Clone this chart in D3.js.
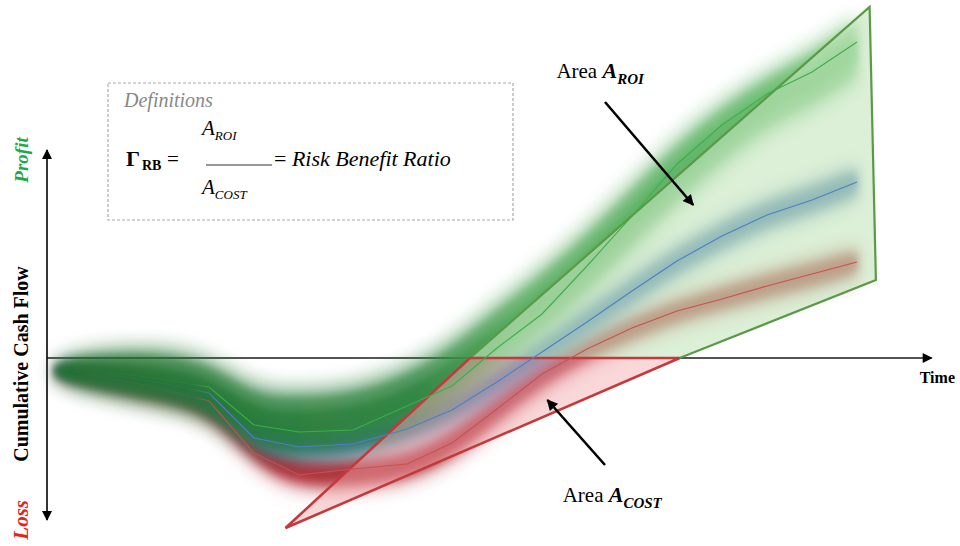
<!DOCTYPE html>
<html>
<head>
<meta charset="utf-8">
<script src="https://cdn.jsdelivr.net/npm/d3@7"></script>
<style>
  body { margin: 0; background: #fff; }
  svg { display: block; }
  text { font-family: "Liberation Serif", "Times New Roman", serif; }
</style>
</head>
<body>
<svg id="chart" width="960" height="546"></svg>
<script>
// Time steps (months) shared by all scenarios
const time = [1, 3, 11, 18, 23, 28, 34, 40, 45, 50, 55, 60, 65, 70, 75, 80, 85, 90];

// Cumulative cash flow per scenario (expected path)
const greenValues = [-4, -5, -9.5, -14.5, -33.5, -37, -36, -24, -14, 5, 22, 46, 71, 97, 116.5, 132, 143, 158];
const blueValues  = [-5, -6, -11, -17.5, -40, -44.5, -43, -35.5, -26, -12, 3, 18, 33.5, 48.5, 61, 71.5, 79, 88];
const redValues   = [-6, -7, -13.5, -21.5, -47.5, -58.5, -55.5, -53, -42.5, -25.5, -8, 4.5, 15, 23.5, 29.5, 36, 42, 48];

// Uncertainty envelopes (upper / lower bound) per scenario
const greenHigh = [-3, 1, 3, -2, -19, -20, -18, -9, 5, 24, 41.5, 61.5, 84, 106.5, 125, 140, 151.5, 166.5];
const greenLow  = [-10, -14, -20, -26, -44, -46, -43, -36, -21, -3.5, 14, 34, 56.5, 79, 99, 116.5, 126.5, 141.5];
const blueHigh  = [-4, -3.5, -8.5, -15, -33.5, -37, -36, -28.5, -19, -5, 10, 25, 40.5, 55.5, 68, 79, 86, 95];
const blueLow   = [-8, -11, -16, -22, -47, -50, -49, -42, -33, -19, -4, 11, 26.5, 41.5, 54, 65, 72, 81];
const redHigh   = [-5, -6, -11, -18.5, -41, -52, -51, -49, -37, -19, -2, 10, 20.5, 29, 35.5, 42, 47.5, 54];
const redLow    = [-9, -12, -20, -26, -53.5, -65, -64, -61, -50, -32, -14, -1, 9, 18, 24, 30, 35.5, 42];

// Return-on-investment area and cost area, as [time, cash flow] vertices
const roiArea  = [[47, 0], [91.4, 175.5], [92.1, 39], [70.3, 0]];
const costArea = [[47, 0], [26.5, -85], [70.3, 0]];

// Axis extents
const timeAxisEnd = 98.3;
const cashAxisRange = [-81, 104];

const svg = d3.select("#chart");
const x = d3.scaleLinear().domain([0, 100]).range([47, 947]);
const y = d3.scaleLinear().domain([-80, 100]).range([518, 158]);

const defs = svg.append("defs");

// blur filters for the uncertainty bands
[["blurHalo", 9], ["blurBody", 5], ["blurCore", 3]].forEach(([id, sd]) => {
  defs.append("filter").attr("id", id)
    .attr("x", "-20%").attr("y", "-30%").attr("width", "140%").attr("height", "160%")
    .append("feGaussianBlur").attr("stdDeviation", sd);
});

// arrowheads
function marker(id, color, w, h) {
  defs.append("marker").attr("id", id)
    .attr("viewBox", "0 0 10 10").attr("refX", 9).attr("refY", 5)
    .attr("markerWidth", w).attr("markerHeight", h)
    .attr("markerUnits", "userSpaceOnUse")
    .attr("orient", "auto-start-reverse")
    .append("path").attr("d", "M0,0 L10,5 L0,10 Z").attr("fill", color);
}
marker("arrowAxis", "#000", 12, 10);
marker("arrowNote", "#000", 13, 11);

// band layers: [spread factor, blur filter, opacity scale]
const bandLayers = [[1.4, "blurHalo", 0.45], [1.0, "blurBody", 0.55], [0.45, "blurCore", 0.55]];

const series = [
  { key: "red",   values: redValues,   high: redHigh,   low: redLow,
    line: "#c8504f", strength: 1.2,
    stops: [[0, "#c85860"], [0.25, "#b02833"], [1, "#aa2f36"]] },
  { key: "blue",  values: blueValues,  high: blueHigh,  low: blueLow,
    line: "#4b7fc6", strength: 1.05,
    stops: [[0, "#4a78b4"], [1, "#3c6ca6"]] },
  { key: "green", values: greenValues, high: greenHigh, low: greenLow,
    line: "#3aae4a", strength: 1.15,
    stops: [[0, "#1f6f2b"], [0.45, "#27803a"], [0.58, "#4fa758"], [1, "#62bb69"]] }
];

series.forEach(s => {
  const g = defs.append("linearGradient").attr("id", "grad-" + s.key)
    .attr("gradientUnits", "userSpaceOnUse")
    .attr("x1", x(time[0])).attr("x2", x(time[time.length - 1]))
    .attr("y1", 0).attr("y2", 0);
  s.stops.forEach(([o, c]) => g.append("stop").attr("offset", o).attr("stop-color", c));

  // path stroke fades inside the dense early cluster
  const l = defs.append("linearGradient").attr("id", "line-" + s.key)
    .attr("gradientUnits", "userSpaceOnUse")
    .attr("x1", x(time[0])).attr("x2", x(time[time.length - 1]))
    .attr("y1", 0).attr("y2", 0);
  [[0, 0.08], [0.17, 0.15], [0.2, 1], [1, 1]].forEach(([o, a]) =>
    l.append("stop").attr("offset", o).attr("stop-color", s.line).attr("stop-opacity", a));
});

// ---- axes ----
svg.append("line")
  .attr("x1", x(0)).attr("x2", x(timeAxisEnd))
  .attr("y1", y(0)).attr("y2", y(0))
  .attr("stroke", "#555").attr("stroke-width", 2)
  .attr("marker-end", "url(#arrowAxis)");

svg.append("line")
  .attr("x1", x(0)).attr("x2", x(0))
  .attr("y1", y(cashAxisRange[0])).attr("y2", y(cashAxisRange[1]))
  .attr("stroke", "#000").attr("stroke-width", 1.6)
  .attr("marker-start", "url(#arrowAxis)")
  .attr("marker-end", "url(#arrowAxis)");

// ---- uncertainty bands ----
const bandLayer = svg.append("g");
series.forEach(s => {
  const rows = time.map((t, i) => ({ t, hi: s.high[i], lo: s.low[i] }));
  bandLayers.forEach(([k, filter, op]) => {
    const area = d3.area().curve(d3.curveBasis)
      .x(d => x(d.t))
      .y0(d => y((d.lo + d.hi) / 2 - (d.hi - d.lo) * k / 2))
      .y1(d => y((d.lo + d.hi) / 2 + (d.hi - d.lo) * k / 2));
    bandLayer.append("path").datum(rows).attr("d", area)
      .attr("fill", `url(#grad-${s.key})`)
      .attr("opacity", Math.min(1, op * s.strength))
      .attr("filter", `url(#${filter})`);
  });
});

// ---- areas ----
const polyLine = d3.line().x(d => x(d[0])).y(d => y(d[1]));
svg.append("path").attr("d", polyLine(roiArea) + "Z")
  .attr("fill", "#c4e6bc").attr("fill-opacity", 0.6)
  .attr("stroke", "#5a9a46").attr("stroke-width", 2.2).attr("stroke-linejoin", "miter");

svg.append("path").attr("d", polyLine(costArea) + "Z")
  .attr("fill", "#f4a8ae").attr("fill-opacity", 0.45)
  .attr("stroke", "#c43a3c").attr("stroke-width", 2.6).attr("stroke-linejoin", "miter");

// ---- expected paths ----
series.forEach(s => {
  const pts = time.map((t, i) => [t, s.values[i]]).slice(1);
  svg.append("path").attr("d", polyLine(pts))
    .attr("fill", "none").attr("stroke", `url(#line-${s.key})`).attr("stroke-width", 1.1);
});

// ---- annotation arrows ----
const roiArrow  = [[62, 128], [71.8, 76.5]];
const costArrow = [[62, -53.5], [55.6, -21]];
[roiArrow, costArrow].forEach(a => {
  svg.append("line")
    .attr("x1", x(a[0][0])).attr("y1", y(a[0][1]))
    .attr("x2", x(a[1][0])).attr("y2", y(a[1][1]))
    .attr("stroke", "#000").attr("stroke-width", 2.6)
    .attr("marker-end", "url(#arrowNote)");
});

// area labels
function areaLabel(t, v, sub) {
  const tx = svg.append("text").attr("x", x(t)).attr("y", y(v))
    .attr("font-size", 21).attr("fill", "#000");
  tx.append("tspan").text("Area ");
  tx.append("tspan").text("A").attr("font-weight", "bold").attr("font-style", "italic").attr("font-size", 22);
  tx.append("tspan").text(sub).attr("font-weight", "bold").attr("font-style", "italic")
    .attr("font-size", 15).attr("dy", 6);
}
areaLabel(56.6, 140, "ROI");
areaLabel(57.3, -72, "COST");

// ---- axis titles ----
svg.append("text").attr("x", 955).attr("y", 383).attr("text-anchor", "end")
  .attr("font-size", 16).attr("font-weight", "bold").text("Time");

svg.append("text").attr("transform", "translate(28,364) rotate(-90)")
  .attr("text-anchor", "middle").attr("font-size", 20).attr("font-weight", "bold")
  .text("Cumulative Cash Flow");

svg.append("text").attr("transform", "translate(28,160) rotate(-90)")
  .attr("text-anchor", "middle").attr("font-size", 19).attr("font-weight", "bold")
  .attr("font-style", "italic").attr("fill", "#1ea84a").text("Profit");

svg.append("text").attr("transform", "translate(28,500) rotate(-90)")
  .attr("text-anchor", "end").attr("font-size", 21).attr("font-weight", "bold")
  .attr("font-style", "italic").attr("fill", "#e8201e").text("Loss");

// ---- definitions box ----
const box = svg.append("g");
box.append("rect").attr("x", 108).attr("y", 83).attr("width", 405).attr("height", 137)
  .attr("fill", "#fff").attr("stroke", "#aaa").attr("stroke-width", 1.2)
  .attr("stroke-dasharray", "3,2");
box.append("text").attr("x", 124).attr("y", 107).attr("font-size", 20)
  .attr("font-style", "italic").attr("fill", "#888").text("Definitions");

const gamma = box.append("text").attr("x", 126).attr("y", 166).attr("font-size", 22).attr("font-weight", "bold");
gamma.append("tspan").text("Γ");
gamma.append("tspan").text("RB").attr("font-size", 14).attr("dx", 2).attr("dy", 4);
box.append("text").attr("x", 167).attr("y", 166).attr("font-size", 21).text("=");

function subText(xp, yp, main, sub) {
  const tx = box.append("text").attr("x", xp).attr("y", yp).attr("font-style", "italic");
  tx.append("tspan").text(main).attr("font-size", 21);
  tx.append("tspan").text(sub).attr("font-size", 13).attr("dy", 5);
}
subText(202, 135, "A", "ROI");
subText(202, 194, "A", "COST");
box.append("line").attr("x1", 206).attr("x2", 272).attr("y1", 165).attr("y2", 165)
  .attr("stroke", "#333").attr("stroke-width", 1.2);

const ratio = box.append("text").attr("x", 274).attr("y", 166).attr("font-size", 22);
ratio.append("tspan").text("= ");
ratio.append("tspan").text("Risk Benefit Ratio").attr("font-style", "italic");
</script>
</body>
</html>
